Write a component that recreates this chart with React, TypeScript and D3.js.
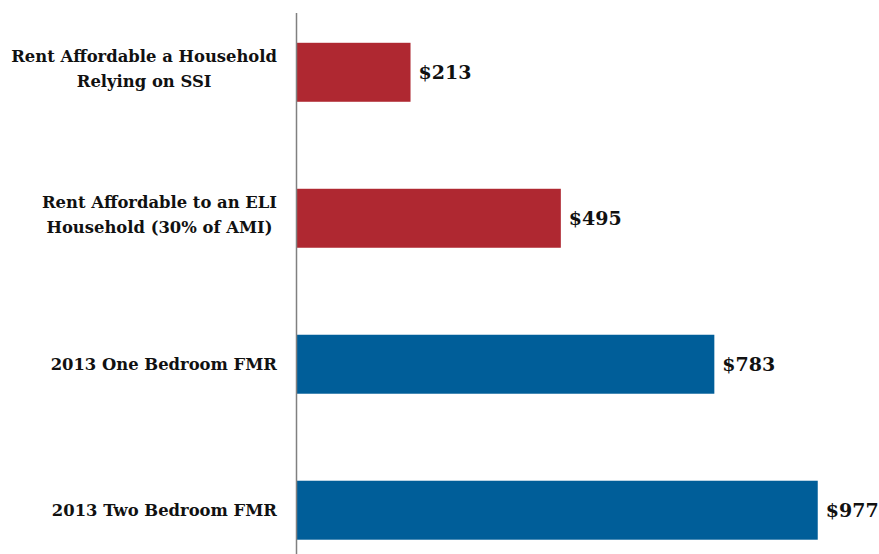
import React from "react";
import * as d3 from "d3";

const categories: string[][] = [
  ["Rent Affordable a Household", "Relying on SSI"],
  ["Rent Affordable to an ELI", "Household (30% of AMI)"],
  ["2013 One Bedroom FMR"],
  ["2013 Two Bedroom FMR"],
];
const values: number[] = [213, 495, 783, 977];
const colors: string[] = ["#AF2831", "#AF2831", "#005E99", "#005E99"];

const W = 879;
const H = 554;
const FONT = "'DejaVu Serif', serif";
const LABEL_SIZE = 16.4;

let ctx: CanvasRenderingContext2D | null = null;
function measure(t: string, size: number): number {
  if (!ctx) ctx = document.createElement("canvas").getContext("2d");
  if (!ctx) return t.length * size * 0.6;
  ctx.font = `bold ${size}px 'DejaVu Serif'`;
  return ctx.measureText(t).width;
}

export default function App() {
  const x0 = 297;
  const x = d3.scaleLinear().domain([0, 1000]).range([x0, x0 + 533]);
  const ids = categories.map((_, i) => String(i));
  const y = d3
    .scaleBand<string>()
    .domain(ids)
    .range([-1, 583.5])
    .paddingInner(0.596)
    .paddingOuter(0.3);
  const right = 277;

  return (
    <svg
      width={W}
      height={H}
      style={{ position: "absolute", left: 0, top: 0, background: "#fff" }}
    >
      {values.map((v, i) => {
        const yy = y(String(i))!;
        const bw = y.bandwidth();
        const cy = yy + bw / 2;
        const lines = categories[i];
        const maxW = Math.max(...lines.map((l) => measure(l, LABEL_SIZE)));
        const cx = right - maxW / 2;
        return (
          <g key={i}>
            <rect x={x(0)} y={yy} width={x(v) - x(0)} height={bw} fill={colors[i]} />
            <text
              x={x(v) + 8}
              y={cy + 7}
              fontFamily={FONT}
              fontWeight="bold"
              fontSize={19}
              fill="#111"
            >
              {"$" + d3.format(",")(v)}
            </text>
            {lines.map((ln, j) => (
              <text
                key={j}
                x={lines.length === 1 ? right : cx}
                y={lines.length === 1 ? cy + 6 : cy - 10 + j * 25}
                textAnchor={lines.length === 1 ? "end" : "middle"}
                fontFamily={FONT}
                fontWeight="bold"
                fontSize={LABEL_SIZE}
                fill="#111"
              >
                {ln}
              </text>
            ))}
          </g>
        );
      })}
      <line x1={x(0) - 0.5} x2={x(0) - 0.5} y1={13} y2={H} stroke="#808080" strokeWidth={1.5} />
    </svg>
  );
}
